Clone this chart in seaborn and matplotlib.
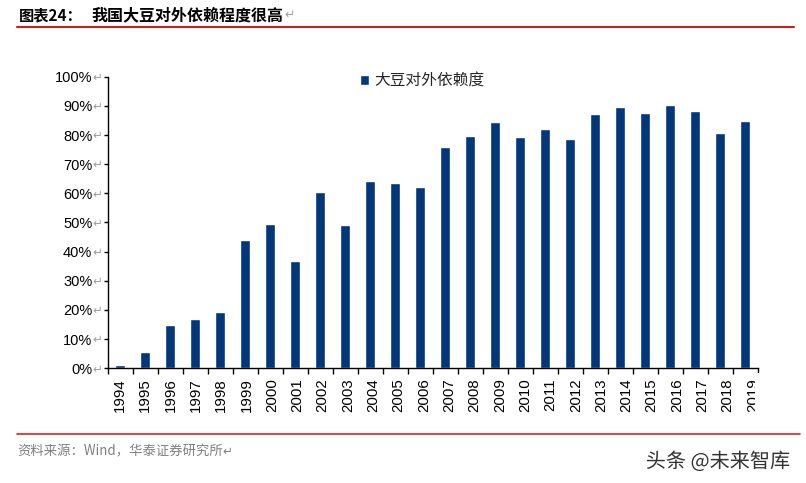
import matplotlib
matplotlib.use("Agg")
import matplotlib.pyplot as plt
import matplotlib.patheffects as pe
import seaborn as sns
import pandas as pd
import numpy as np

years = [str(y) for y in range(1994, 2020)]
dependence = [1.1, 5.6, 14.9, 16.9, 19.3, 44.0, 49.5, 36.8, 60.5, 49.1, 64.2, 63.5, 62.2,
              75.9, 79.7, 84.5, 79.3, 82.1, 78.6, 87.2, 89.6, 87.6, 90.3, 88.2, 80.7, 84.8]
series_name = "大豆对外依赖度"
title_label = "图表24："
title_text = "我国大豆对外依赖程度很高"
source_text = "资料来源：Wind，华泰证券研究所"
watermark = "头条 @未来智库"
yticks = [0, 10, 20, 30, 40, 50, 60, 70, 80, 90, 100]

sns.set_theme(style="white")
plt.rcParams['font.family'] = ['Liberation Sans', 'Noto Sans CJK SC', 'DejaVu Sans']
CJK = ['Noto Sans CJK SC', 'DejaVu Sans']

W, H = 806, 483
fig = plt.figure(figsize=(W / 100, H / 100), dpi=100)
left, right, bottom, top = 107.5, 758, 368.3, 76.7
ax = fig.add_axes([left / W, 1 - bottom / H, (right - left) / W, (bottom - top) / H])

df = pd.DataFrame({"year": years, "value": dependence})
bar_color = "#02377A"
sns.barplot(data=df, x="year", y="value", color=bar_color, width=0.4, ax=ax,
            saturation=1, label=series_name)

n = len(years)
ax.set_xlim(-0.5, n - 0.5)
ax.set_ylim(0, 100)
# year labels drift slightly to the right in the reference rendering
label_step = 1.012
ax.set_xticks(np.arange(n) * label_step)
ax.set_xticklabels(years)
ax.set_yticks(yticks)
ax.set_yticklabels([f"{v}%" for v in yticks])
ax.set_xlabel("")
ax.set_ylabel("")

for s in ["top", "right"]:
    ax.spines[s].set_visible(False)
for s in ["left", "bottom"]:
    ax.spines[s].set_color("black")
    ax.spines[s].set_linewidth(1.0)

ax.tick_params(axis="y", direction="out", length=3, width=1, color="black",
               labelsize=10.5, pad=8, left=True)
ax.tick_params(axis="x", which="major", length=0, labelsize=10.8, pad=7,
               labelrotation=90, bottom=True)
ax.set_xticks(np.arange(-0.5, n, 1.0), minor=True)
ax.tick_params(axis="x", which="minor", direction="out", length=4, width=1,
               color="black", bottom=True)
for lbl in ax.get_xticklabels():
    lbl.set_verticalalignment("top")
    lbl.set_color("black")
for lbl in ax.get_yticklabels():
    lbl.set_color("black")

# the last year label is cut off at the chart edge in the reference
fig.add_artist(plt.Rectangle((755 / W, 1 - 428 / H), 45 / W, 55 / H,
                             transform=fig.transFigure, facecolor="white",
                             edgecolor="none", zorder=10))

# gray paragraph marks after y tick labels
for v in yticks:
    ax.annotate("↵", xy=(0, v), xycoords=("axes fraction", "data"),
                xytext=(-11, -0.5), textcoords="offset points",
                ha="left", va="center", fontsize=8.5, color="#A0A0A0",
                family=['DejaVu Sans'])

# legend
leg = ax.legend(loc="upper left", bbox_to_anchor=((354 - left) / (right - left), 1.035),
                frameon=False, prop={'family': CJK, 'size': 11.3},
                handlelength=0.55, handleheight=0.55, handletextpad=0.35,
                borderaxespad=0)

# title and lines
fig.text(19 / W, 1 - 15 / H, title_label, fontsize=11, fontweight="bold",
         family=CJK, va="center", ha="left", color="black")
t2 = fig.text(91 / W, 1 - 15 / H, title_text, fontsize=11.5, fontweight="bold",
              family=CJK, va="center", ha="left", color="black")
ax.annotate("↵", xy=(1, 0.5), xycoords=t2, xytext=(1, 0), textcoords="offset points",
            fontsize=9, color="#A0A0A0", family=['DejaVu Sans'],
            va="center", ha="left", annotation_clip=False)
fig.add_artist(plt.Line2D([17 / W, 794 / W], [1 - 27 / H, 1 - 27 / H],
                          color="#C8201A", linewidth=1.5))
fig.add_artist(plt.Line2D([17 / W, 800 / W], [1 - 434 / H, 1 - 434 / H],
                          color="#E0201A", linewidth=1.2))

src = fig.text(17 / W, 1 - 451 / H, source_text, fontsize=9.6, family=CJK,
               color="#808080", va="center", ha="left")
ax.annotate("↵", xy=(1, 0.5), xycoords=src, xytext=(0, 0), textcoords="offset points",
            fontsize=8.5, color="#808080", family=['DejaVu Sans'],
            va="center", ha="left", annotation_clip=False)
fig.text(790 / W, 1 - 462 / H, watermark, fontsize=14.5, family=CJK,
         color="#333333", va="center", ha="right",
         path_effects=[pe.withStroke(linewidth=2, foreground="white")])

fig.savefig("out.png", dpi=100)
